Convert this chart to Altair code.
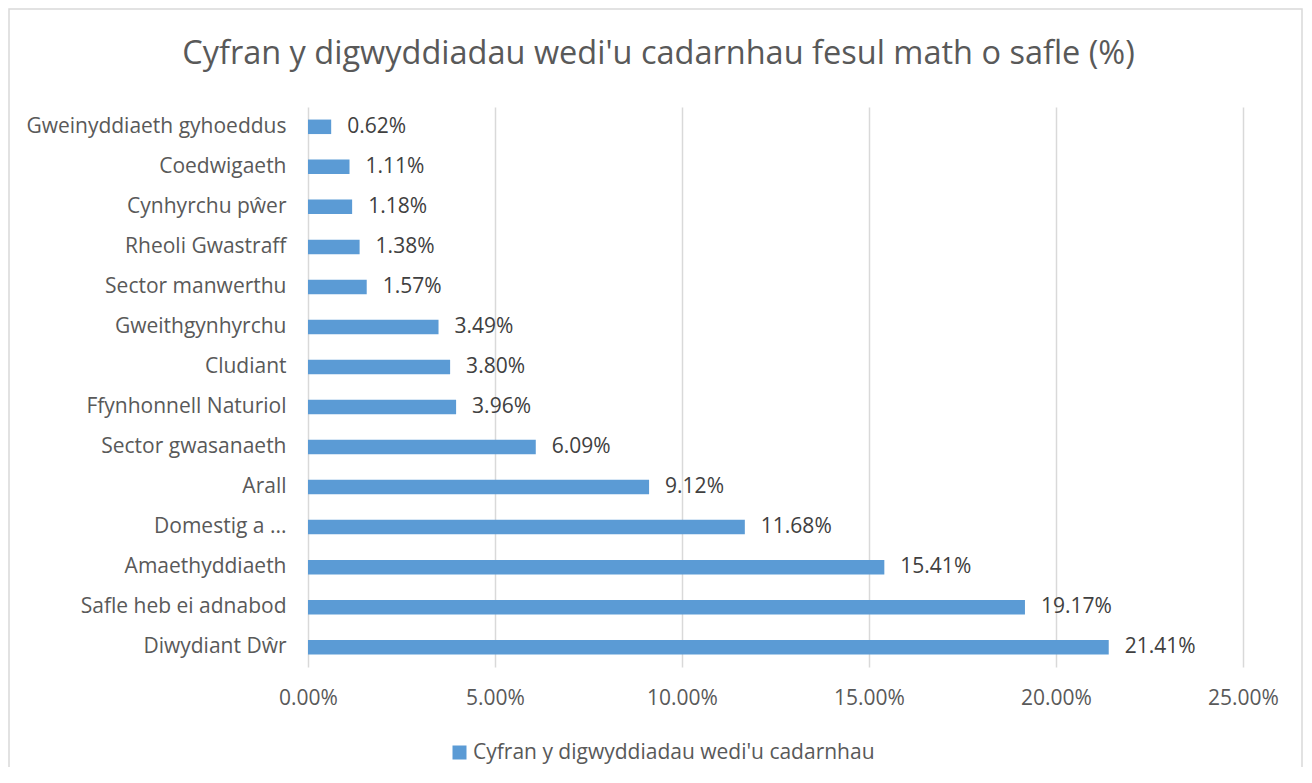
import altair as alt
import pandas as pd

categories = [
    "Gweinyddiaeth gyhoeddus", "Coedwigaeth", "Cynhyrchu pŵer", "Rheoli Gwastraff",
    "Sector manwerthu", "Gweithgynhyrchu", "Cludiant", "Ffynhonnell Naturiol",
    "Sector gwasanaeth", "Arall", "Domestig a ...", "Amaethyddiaeth",
    "Safle heb ei adnabod", "Diwydiant Dŵr",
]
values = [0.62, 1.11, 1.18, 1.38, 1.57, 3.49, 3.80, 3.96, 6.09, 9.12, 11.68, 15.41, 19.17, 21.41]
series_name = "Cyfran y digwyddiadau wedi'u cadarnhau"
title_text = "Cyfran y digwyddiadau wedi'u cadarnhau fesul math o safle (%)"

df = pd.DataFrame({"cat": categories, "val": values, "series": series_name})
df["label"] = [f"{v:.2f}%" for v in values]

FONT = "Open Sans"
GREY = "#595959"
FS = 21

y_enc = alt.Y("cat:N", sort=categories, title=None,
              scale=alt.Scale(paddingInner=0.63, paddingOuter=0.31),
              axis=alt.Axis(labelFontSize=FS, labelColor=GREY, labelFont=FONT, labelLimit=0,
                            ticks=False, domain=False, labelPadding=22, grid=False))
x_enc = alt.X("val:Q", title=None,
              scale=alt.Scale(domain=[0, 25], nice=False),
              axis=alt.Axis(values=[0, 5, 10, 15, 20, 25], labelExpr="format(datum.value, '.2f') + '%'",
                            labelFontSize=FS, labelColor=GREY, labelFont=FONT, labelFlush=False,
                            ticks=False, domain=False, grid=True, gridColor="#d9d9d9",
                            gridWidth=1.5, labelPadding=20))

frame = alt.Chart(pd.DataFrame({"a": [0]})).mark_rect(
    fill=None, stroke="#d9d9d9", strokeWidth=1.5
).encode(x=alt.value(-299), x2=alt.value(994), y=alt.value(-98), y2=alt.value(700))

bars = alt.Chart(df).mark_bar(size=14.5).encode(
    x=x_enc, y=y_enc,
    color=alt.Color("series:N", scale=alt.Scale(range=["#5B9BD5"]),
                    legend=alt.Legend(title=None, orient="none", legendX=141, legendY=635,
                                      symbolType="square", symbolSize=196, symbolStrokeWidth=0,
                                      labelFontSize=FS, labelColor=GREY, labelFont=FONT,
                                      labelLimit=0, labelOffset=3)),
)
text = alt.Chart(df).mark_text(align="left", dx=16, fontSize=FS, font=FONT, color="#404040").encode(
    x="val:Q", y=alt.Y("cat:N", sort=categories), text="label:N"
)

chart = alt.layer(frame, bars, text).properties(
    width=935, height=560,
    title=alt.TitleParams(title_text, fontSize=32.5, font=FONT, fontWeight="normal", color=GREY,
                          anchor="middle", dx=-117, offset=-62),
    autosize=alt.AutoSizeParams(type="none"),
    padding={"left": 300, "top": 99, "right": 60, "bottom": 100},
).configure_view(stroke=None)

chart.save("out.html", embed_options={"renderer": "svg", "actions": False})
